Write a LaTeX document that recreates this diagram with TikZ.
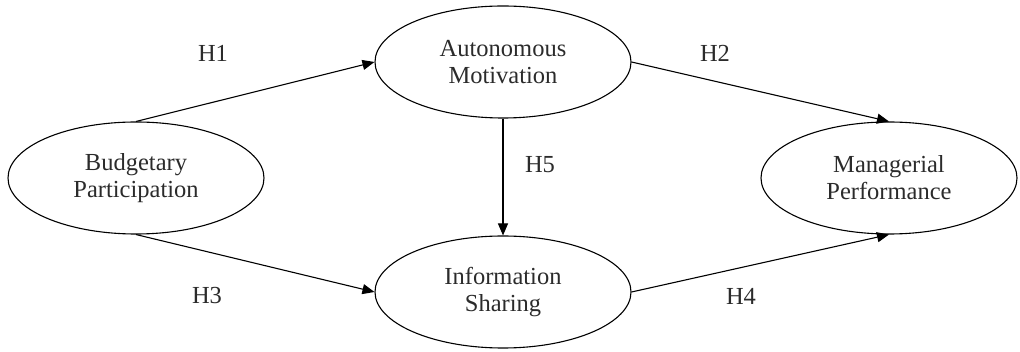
\documentclass[tikz,border=0pt]{standalone}
\usepackage{fontspec}
\setmainfont{Liberation Serif}
\definecolor{inkgray}{HTML}{2B2B2B}
\usepackage{tikz}
\usetikzlibrary{shapes.geometric,arrows.meta,positioning}

\begin{document}
\begin{tikzpicture}[x=1pt,y=-1pt,
  construct/.style={draw,line width=1.1pt,ellipse,inner sep=0pt,
    minimum width=256pt,minimum height=112pt,align=center,
    text=inkgray,font=\fontsize{24.5}{27}\selectfont},
  path/.style={line width=1.1pt,-{Triangle[length=12pt,width=10pt]}},
  hyp/.style={text=inkgray,font=\fontsize{24.5}{27}\selectfont}]
  \useasboundingbox (0,0) rectangle (1020,352);
  % constructs
  \node[construct] (budget) at (136,178) {Budgetary\\Participation};
  \node[construct] (motiv) at (503,62) {Autonomous\\Motivation};
  \node[construct] (share) at (503,292) {Information\\Sharing};
  \node[construct] (perf) at (889,178) {Managerial\\Performance};
  % hypothesised paths
  \draw[path] (budget.north) -- (motiv.west);
  \draw[path] (motiv.east) -- (perf.north);
  \draw[path] (motiv.south) -- (share.north);
  \draw[path] (budget.south) -- (share.west);
  \draw[path] (share.east) -- (perf.south);
  % path labels
  \node[hyp] (h1) at (213,53) {H1};
  \node[hyp] (h2) at (715,53) {H2};
  \node[hyp] (h5) at (540,165) {H5};
  \node[hyp] (h3) at (207,296) {H3};
  \node[hyp] (h4) at (741,296) {H4};
\end{tikzpicture}
\end{document}
